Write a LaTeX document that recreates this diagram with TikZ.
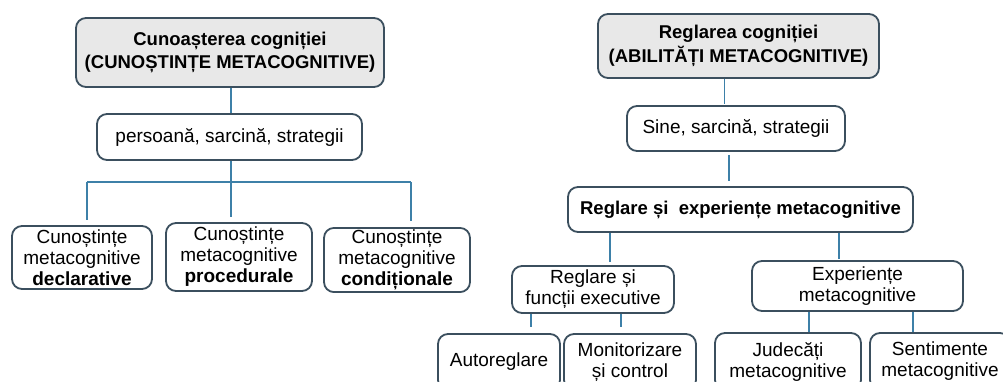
\documentclass[tikz,border=0pt]{standalone}
\usepackage{fontspec}
\setmainfont{Liberation Sans}
\usepackage{xcolor}
\usetikzlibrary{arrows.meta, positioning}
\definecolor{borde}{RGB}{59,79,94}
\definecolor{linea}{RGB}{61,128,168}
\definecolor{gris}{RGB}{232,232,232}

\begin{document}
\begin{tikzpicture}[
        x=1pt, y=-1pt,
        block/.style={rectangle, draw=borde, line width=1.8pt, rounded corners=10pt, fill=white, align=center, inner sep=2pt, font=\fontsize{19}{21}\selectfont},
        topblock/.style={block, fill=gris, font=\fontsize{18.5}{23.5}\selectfont\bfseries},
        conn/.style={line width=1.8pt, linea}
    ]
        \useasboundingbox (0,0) rectangle (1003,381);

        % cunoasterea cognitiei
        \node[topblock, minimum width=308pt, minimum height=69pt] (cun) at (230,52.5) {Cunoașterea cogniției\\(CUNOȘTINȚE METACOGNITIVE)};
        \node[block, minimum width=265pt, minimum height=46pt] (pers) at (229.5,137) {persoană, sarcină, strategii};

        \node[block, minimum width=140pt, minimum height=63pt] (decl) at (82,257.5) {Cunoștințe\\metacognitive\\\textbf{declarative}};
        \node[block, minimum width=146pt, minimum height=68pt] (proc) at (239,257) {Cunoștințe\\metacognitive\\\textbf{procedurale}};
        \node[block, minimum width=146pt, minimum height=62pt] (cond) at (397,260) {Cunoștințe\\metacognitive\\\textbf{condiționale}};

        % reglarea cognitiei
        \node[topblock, minimum width=281pt, minimum height=64pt] (regc) at (738.5,46) {Reglarea cogniției\\(ABILITĂȚI METACOGNITIVE)};
        \node[block, minimum width=218pt, minimum height=45pt] (sine) at (736,128.5) {Sine, sarcină, strategii};
        \node[block, minimum width=345pt, minimum height=45pt, font=\fontsize{18.5}{21}\selectfont\bfseries] (rse) at (740.5,209.5) {Reglare și\ \ experiențe metacognitive};

        \node[block, minimum width=162pt, minimum height=47pt] (rfe) at (593,289.5) {Reglare și\\funcții executive};
        \node[block, minimum width=211pt, minimum height=50pt] (exp) at (857.5,286) {Experiențe\\metacognitive};

        \node[block, minimum width=122pt, minimum height=56pt] (auto) at (499,362) {Autoreglare};
        \node[block, minimum width=132pt, minimum height=56pt] (mon) at (630,362) {Monitorizare\\și control};
        \node[block, minimum width=146pt, minimum height=57pt] (jud) at (788,361.5) {Judecăți\\metacognitive};
        \node[block, minimum width=140pt, minimum height=57pt] (sent) at (940,361.5) {Sentimente\\metacognitive};

        \coordinate (busL) at (87,182);
        \coordinate (busR) at (411,182);

        \draw[conn] ([xshift=1pt]cun.south) -- ([xshift=1pt]cun.south |- pers.north);
        \draw[conn] ([xshift=1.5pt]pers.south) -- ([xshift=1.5pt]pers.south |- busL);
        \draw[conn] (busL) -- (busR);
        \draw[conn, shorten >=5pt] (busL) -- (busL |- decl.north);
        \draw[conn, shorten >=5pt] ([xshift=1.5pt]pers.south |- busL) -- ([xshift=1.5pt]pers.south |- proc.north);
        \draw[conn, shorten >=6pt] (busR) -- (busR |- cond.north);

        \draw[conn, shorten >=1pt] ([xshift=-14pt]regc.south) -- ([xshift=-14pt]regc.south |- sine.north);
        \draw[conn, shorten <=3pt, shorten >=5pt] ([xshift=-7pt]sine.south) -- ([xshift=-7pt]sine.south |- rse.north);
        \draw[conn, shorten >=3pt] ([xshift=17pt]rfe.north |- rse.south) -- ([xshift=17pt]rfe.north);
        \draw[conn, shorten >=1pt] ([xshift=-18.5pt]exp.north |- rse.south) -- ([xshift=-18.5pt]exp.north);
        \draw[conn, shorten >=6pt] ([xshift=32pt]auto.north |- rfe.south) -- ([xshift=32pt]auto.north);
        \draw[conn, shorten >=6pt] ([xshift=-9pt]mon.north |- rfe.south) -- ([xshift=-9pt]mon.north);
        \draw[conn] ([xshift=21pt]jud.north |- exp.south) -- ([xshift=21pt]jud.north);
        \draw[conn] ([xshift=-27pt]sent.north |- exp.south) -- ([xshift=-27pt]sent.north);
    \end{tikzpicture}
\end{document}
